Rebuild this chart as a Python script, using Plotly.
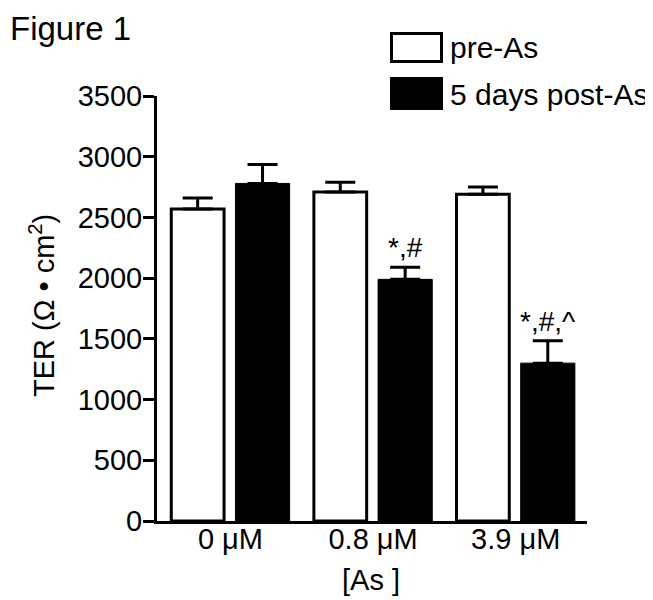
import plotly.graph_objects as go

categories = ["0 μM", "0.8 μM", "3.9 μM"]
pre_as = [2570, 2710, 2690]
pre_as_err = [90, 80, 60]
post_as = [2780, 1990, 1300]
post_as_err = [155, 100, 185]
sig_labels = ["", "*,#", "*,#,^"]
y_ticks = [0, 500, 1000, 1500, 2000, 2500, 3000, 3500]

FONT = "Liberation Sans, Arial, sans-serif"
FS = 29
xpos = list(range(len(categories)))

# page has an 8px body margin; figure is sized to fit the 653x600 window
OFF = 8
W, H = 653 - OFF, 600 - OFF
# plot area in screen pixels
L, R, T, B = 157, 587, 96, 521


def px_x(p):
    return (p - L) / (R - L)


def px_y(p):
    return (B - p) / (B - T)


fig = go.Figure()
fig.add_trace(go.Bar(
    x=xpos, y=pre_as, name="pre-As", width=0.37, offset=-0.415,
    marker=dict(color="white", line=dict(color="black", width=3)),
    error_y=dict(type="data", array=pre_as_err, arrayminus=[0]*3, symmetric=False,
                 color="black", thickness=3, width=15),
    showlegend=False,
))
fig.add_trace(go.Bar(
    x=xpos, y=post_as, name="5 days post-As", width=0.38, offset=0.035,
    marker=dict(color="black", line=dict(color="black", width=1)),
    error_y=dict(type="data", array=post_as_err, arrayminus=[0]*3, symmetric=False,
                 color="black", thickness=3, width=15),
    showlegend=False,
))

for i, lab in enumerate(sig_labels):
    if lab:
        fig.add_annotation(x=i + 0.225, y=post_as[i] + post_as_err[i], text=lab,
                           showarrow=False, yanchor="bottom", yshift=2,
                           font=dict(size=28, color="black", family=FONT))

# legend drawn manually
fig.add_shape(type="rect", xref="paper", yref="paper", x0=px_x(391.5), x1=px_x(441.5),
              y0=px_y(61.5), y1=px_y(33.5), line=dict(color="black", width=3), fillcolor="white")
fig.add_shape(type="rect", xref="paper", yref="paper", x0=px_x(390), x1=px_x(443),
              y0=px_y(110), y1=px_y(77), line=dict(color="black", width=0), fillcolor="black")
fig.add_annotation(xref="paper", yref="paper", x=px_x(448), y=px_y(47), text="pre-As",
                   showarrow=False, xanchor="left", yanchor="middle",
                   font=dict(size=30, color="black", family=FONT))
fig.add_annotation(xref="paper", yref="paper", x=px_x(448), y=px_y(95), text="5 days post-As",
                   showarrow=False, xanchor="left", yanchor="middle",
                   font=dict(size=30, color="black", family=FONT))
fig.add_annotation(xref="paper", yref="paper", x=px_x(OFF), y=px_y(OFF), text="Figure 1",
                   showarrow=False, xanchor="left", yanchor="top",
                   font=dict(size=33, color="black", family=FONT))
# axis titles
fig.add_annotation(xref="paper", yref="paper", x=px_x(371), y=px_y(580), text="[As ]",
                   showarrow=False, xanchor="center", yanchor="middle",
                   font=dict(size=FS, color="black", family=FONT))
fig.add_annotation(xref="paper", yref="paper", x=px_x(42), y=px_y(306),
                   text="TER (Ω • cm<sup>2</sup>)", textangle=-90,
                   showarrow=False, xanchor="center", yanchor="middle",
                   font=dict(size=FS, color="black", family=FONT))

fig.update_layout(
    width=W, height=H,
    margin=dict(l=L - OFF, r=W - (R - OFF), t=T - OFF, b=H - (B - OFF), autoexpand=False),
    paper_bgcolor="white", plot_bgcolor="white",
    font=dict(family=FONT, color="black", size=FS),
    xaxis=dict(tickmode="array", tickvals=xpos, ticktext=categories, range=[-0.515, 2.5],
               showline=True, linecolor="black", linewidth=3, ticks="", showgrid=False,
               zeroline=False, tickfont=dict(size=FS), automargin=False,
               ticklabelstandoff=-10),
    yaxis=dict(range=[0, 3500], tickvals=y_ticks, showline=True, linecolor="black", linewidth=3,
               ticks="outside", ticklen=11, tickwidth=3, tickcolor="black", showgrid=False,
               zeroline=False, tickfont=dict(size=FS), automargin=False,
               ticklabelstandoff=-5),
)

fig.write_html("out.html")
